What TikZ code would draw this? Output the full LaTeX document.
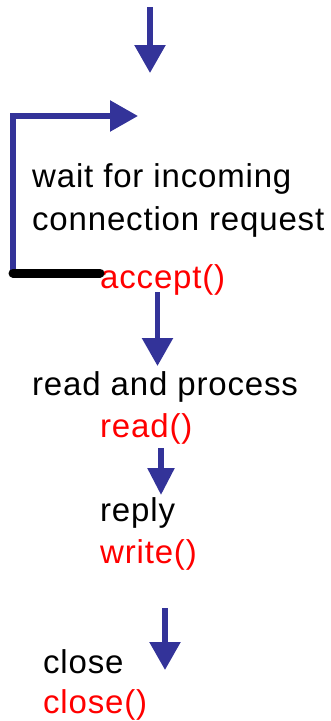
\documentclass[tikz,border=0pt]{standalone}
\usepackage{fontspec}
\setmainfont{Liberation Sans}[LetterSpace=2.5]
\usetikzlibrary{arrows.meta}
\definecolor{flowblue}{RGB}{51,51,153}
\definecolor{callred}{RGB}{255,0,0}
\begin{document}
\begin{tikzpicture}[x=1pt,y=-1pt,
  lbl/.style={inner sep=0pt,anchor=base west,font=\fontsize{33}{43}\selectfont},
  task/.style={lbl,text=black},
  call/.style={lbl,text=callred},
  flow/.style={draw=flowblue,line width=5.5pt,
    -{Triangle[length=28pt,width=30pt,fill=flowblue]}},
  resetbar/.style={draw=black,line width=9pt,line cap=round}]
\useasboundingbox (0,0) rectangle (331,721);

% labels of the server loop (a two-line node sits on its last baseline)
\node[task,align=left] (wait) at (32,230) {wait for incoming\\connection request};
\node[call] (accept) at (100,288) {accept()};
\node[task] (process) at (32,395) {read and process};
\node[call] (read) at (100,437) {read()};
\node[task] (reply) at (100,521) {reply};
\node[call] (write) at (100,563) {write()};
\node[task] (close) at (43,673) {close};
\node[call] (closecall) at (43,713) {close()};

% arrow ends
\coordinate (entryA) at (150,7);
\coordinate (entryB) at (150,73);
\coordinate (loopA) at (13,273);
\coordinate (loopB) at (13,116);
\coordinate (loopC) at (138,116);
\coordinate (acceptA) at (157.5,292);
\coordinate (acceptB) at (157.5,366);
\coordinate (readA) at (161,448);
\coordinate (readB) at (161,495);
\coordinate (writeA) at (165,608);
\coordinate (writeB) at (165,670);

% connectors
\draw[flow] (entryA) -- (entryB);
\draw[flow] (loopA) -- (loopB) -- (loopC);
\draw[resetbar] (loopA) -- (loopA -| accept.west);
\draw[flow] (acceptA) -- (acceptB);
\draw[flow,-{Triangle[length=27pt,width=26pt,fill=flowblue]}] (readA) -- (readB);
\draw[flow] (writeA) -- (writeB);
\end{tikzpicture}
\end{document}
